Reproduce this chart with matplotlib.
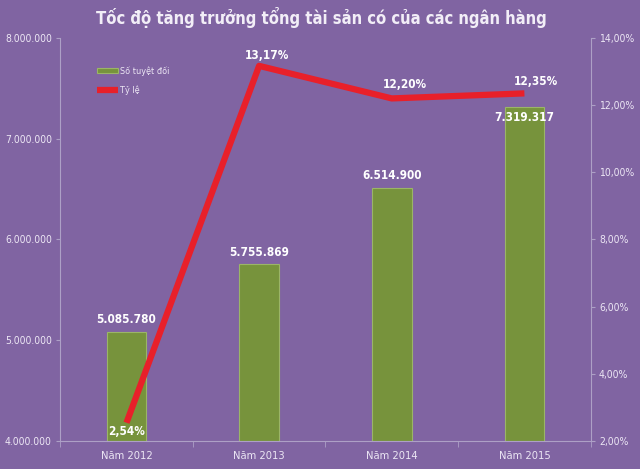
import matplotlib.pyplot as plt
import numpy as np

years = ["Năm 2012", "Năm 2013", "Năm 2014", "Năm 2015"]
totals = [5085780, 5755869, 6514900, 7319317]
growth = [2.54, 13.17, 12.20, 12.35]

total_labels = ["5.085.780", "5.755.869", "6.514.900", "7.319.317"]
growth_labels = ["2,54%", "13,17%", "12,20%", "12,35%"]

bg = "#8064a2"
txt = "#ece6f4"
axis_col = "#ada0c6"

plt.rcParams['font.family'] = ['DejaVu Sans']
plt.rcParams['font.stretch'] = 'condensed'

fig = plt.figure(figsize=(6.4, 4.69), dpi=100, facecolor=bg)
ax = fig.add_axes([0.094, 0.06, 0.829, 0.859])
ax.set_facecolor(bg)
ax2 = ax.twinx()

x = np.arange(len(years))
bars = ax.bar(x, totals, width=0.30, color="#77933c", edgecolor="#9bb567",
              linewidth=0.8, label="Số tuyệt đối", zorder=2)
line, = ax2.plot(x, growth, color="#e8202a", linewidth=4.5,
                 label="Tỷ lệ", zorder=3, solid_capstyle='butt')

ax.set_xlim(-0.5, 3.5)
ax.set_ylim(4000000, 8000000)
ax.set_yticks(np.arange(4000000, 8000001, 1000000))
ax.set_yticklabels(["4.000.000", "5.000.000", "6.000.000", "7.000.000", "8.000.000"])
ax2.set_ylim(2, 14)
ax2.set_yticks(np.arange(2, 14.1, 2))
ax2.set_yticklabels([f"{v:.2f}%".replace(".", ",") for v in np.arange(2, 14.1, 2)])
ax.set_xticks(x)
ax.set_xticklabels(years)

for a in (ax, ax2):
    for s in a.spines.values():
        s.set_visible(False)
    a.tick_params(colors=txt, labelsize=7.5, length=3, width=0.8, pad=3)
    a.tick_params(axis='y', color=axis_col)
ax.spines['left'].set_visible(True)
ax.spines['left'].set_color(axis_col)
ax.spines['bottom'].set_visible(True)
ax.spines['bottom'].set_color(axis_col)
ax2.spines['right'].set_visible(True)
ax2.spines['right'].set_color(axis_col)
ax.tick_params(axis='x', length=0, pad=7, labelsize=8)
# category separators on x axis
ax.set_xticks([-0.5, 0.5, 1.5, 2.5, 3.5], minor=True)
ax.tick_params(axis='x', which='minor', length=4, color=axis_col)

# bar labels: last one sits inside the top of the bar
total_offsets = [115000, 115000, 115000, -110000]
for xi, v, lab, dy in zip(x, totals, total_labels, total_offsets):
    ax.text(xi, v + dy, lab, ha='center', va='center', color='white',
            fontsize=8.5, fontweight='bold', zorder=5)

offsets = [(0.0, -0.27), (0.06, 0.3), (0.1, 0.42), (0.09, 0.36)]
for xi, v, lab, (dx, dy) in zip(x, growth, growth_labels, offsets):
    ax2.text(xi + dx, v + dy, lab, ha='center', va='center',
             color='white', fontsize=8.5, fontweight='bold', zorder=5)

h = [bars, line]
leg = ax.legend(h, [hh.get_label() for hh in h], loc='upper left',
                bbox_to_anchor=(0.055, 0.95), frameon=False,
                labelcolor=txt, handlelength=2.3, handleheight=0.5,
                handletextpad=0.2, prop={'size': 6.5}, labelspacing=1.1)

fig.text(0.502, 0.962, "Tốc độ tăng trưởng tổng tài sản có của các ngân hàng",
         ha='center', va='center', color="#f2eef7", fontsize=11.9, fontweight='bold')

fig.savefig("out.png", dpi=100, facecolor=bg)
